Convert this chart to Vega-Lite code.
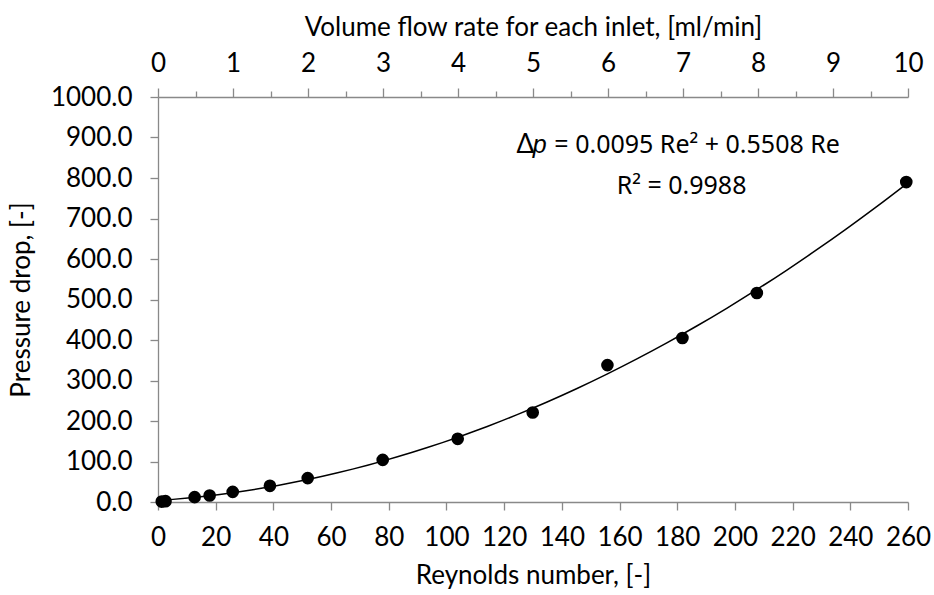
{
  "$schema": "https://vega.github.io/schema/vega-lite/v6.json",
  "width": 750,
  "height": 405,
  "autosize": "none",
  "padding": {"left": 158, "top": 97, "right": 26, "bottom": 93},
  "background": "white",
  "config": {
    "view": {"stroke": null},
    "font": "Lato",
    "axis": {
      "grid": false,
      "domainColor": "#898989",
      "tickColor": "#898989",
      "domainWidth": 1.3,
      "tickWidth": 1.3,
      "labelColor": "#000000",
      "titleColor": "#000000",
      "labelFont": "Lato",
      "titleFont": "Lato",
      "labelFontSize": 26,
      "titleFontSize": 26,
      "titleFontWeight": "normal"
    }
  },
  "data": {
    "values": [
      {"Re": 1.3, "dp": 1, "flow": 0.05},
      {"Re": 2.6, "dp": 2, "flow": 0.1},
      {"Re": 12.7, "dp": 12, "flow": 0.5},
      {"Re": 17.9, "dp": 16, "flow": 0.7},
      {"Re": 25.9, "dp": 25, "flow": 1},
      {"Re": 38.8, "dp": 40, "flow": 1.5},
      {"Re": 51.9, "dp": 59, "flow": 2},
      {"Re": 77.9, "dp": 104, "flow": 3},
      {"Re": 103.9, "dp": 156, "flow": 4},
      {"Re": 129.9, "dp": 221, "flow": 5},
      {"Re": 155.8, "dp": 338, "flow": 6},
      {"Re": 181.8, "dp": 405, "flow": 7},
      {"Re": 207.6, "dp": 516, "flow": 8},
      {"Re": 259.4, "dp": 790, "flow": 10}
    ]
  },
  "layer": [
    {
      "layer": [
        {
          "transform": [{"regression": "dp", "on": "Re", "method": "poly", "order": 2, "extent": [0, 259.4]}],
          "mark": {"type": "line", "color": "#000000", "strokeWidth": 1.5, "interpolate": "monotone"},
          "encoding": {
            "x": {"field": "Re", "type": "quantitative", "scale": {"domain": [0, 260], "nice": false, "zero": true},
              "axis": {"orient": "bottom", "title": "Reynolds number, [-]", "values": [0,20,40,60,80,100,120,140,160,180,200,220,240,260], "tickSize": 8, "labelPadding": 14, "titlePadding": 12, "labelFlush": false}},
            "y": {"field": "dp", "type": "quantitative", "scale": {"domain": [0, 1000], "nice": false},
              "axis": {"title": "Pressure drop, [-]", "values": [0,100,200,300,400,500,600,700,800,900,1000], "format": ".1f", "tickSize": 8, "labelPadding": 18, "titlePadding": 16, "labelFlush": false}}
          }
        },
        {
          "mark": {"type": "circle", "color": "#000000", "opacity": 1, "size": 160},
          "encoding": {
            "x": {"field": "Re", "type": "quantitative"},
            "y": {"field": "dp", "type": "quantitative"}
          }
        },
        {
          "data": {"values": [
            {"Re": 124.3, "dp": 881, "t": "Δ"}
          ]},
          "mark": {"type": "text", "align": "left", "baseline": "middle", "fontSize": 26, "font": "Lato", "color": "#000000"},
          "encoding": {
            "x": {"field": "Re", "type": "quantitative"},
            "y": {"field": "dp", "type": "quantitative"},
            "text": {"field": "t"}
          }
        },
        {
          "data": {"values": [
            {"Re": 129.9, "dp": 881, "t": "p"}
          ]},
          "mark": {"type": "text", "align": "left", "baseline": "middle", "fontSize": 25, "font": "Liberation Sans", "fontStyle": "italic", "color": "#000000"},
          "encoding": {
            "x": {"field": "Re", "type": "quantitative"},
            "y": {"field": "dp", "type": "quantitative"},
            "text": {"field": "t"}
          }
        },
        {
          "data": {"values": [
            {"Re": 137.4, "dp": 881, "t": "= 0.0095 Re² + 0.5508 Re"}
          ]},
          "mark": {"type": "text", "align": "left", "baseline": "middle", "fontSize": 25, "font": "Noto Sans", "color": "#000000"},
          "encoding": {
            "x": {"field": "Re", "type": "quantitative"},
            "y": {"field": "dp", "type": "quantitative"},
            "text": {"field": "t"}
          }
        },
        {
          "data": {"values": [{"Re": 181.5, "dp": 780, "t": "R² = 0.9988"}]},
          "mark": {"type": "text", "align": "center", "baseline": "middle", "fontSize": 25, "font": "Noto Sans", "color": "#000000"},
          "encoding": {
            "x": {"field": "Re", "type": "quantitative"},
            "y": {"field": "dp", "type": "quantitative"},
            "text": {"field": "t"}
          }
        }
      ]
    },
    {
      "mark": {"type": "point", "opacity": 0},
      "encoding": {
        "x": {"field": "flow", "type": "quantitative", "scale": {"domain": [0, 10], "nice": false},
          "axis": {"orient": "top", "title": "Volume flow rate for each inlet, [ml/min]", "values": [0,1,2,3,4,5,6,7,8,9,10], "tickSize": 9, "labelPadding": 12, "titlePadding": 10, "labelFlush": false}},
        "y": {"field": "dp", "type": "quantitative"}
      }
    },
    {
      "mark": {"type": "point", "opacity": 0},
      "encoding": {
        "x": {"field": "flow", "type": "quantitative", "scale": {"domain": [0, 10], "nice": false},
          "axis": {"orient": "top", "title": null, "values": [0.5,1.5,2.5,3.5,4.5,5.5,6.5,7.5,8.5,9.5], "tickSize": 6, "labels": false, "domain": false}},
        "y": {"field": "dp", "type": "quantitative"}
      }
    }
  ],
  "resolve": {"scale": {"x": "independent"}, "axis": {"x": "independent"}}
}
